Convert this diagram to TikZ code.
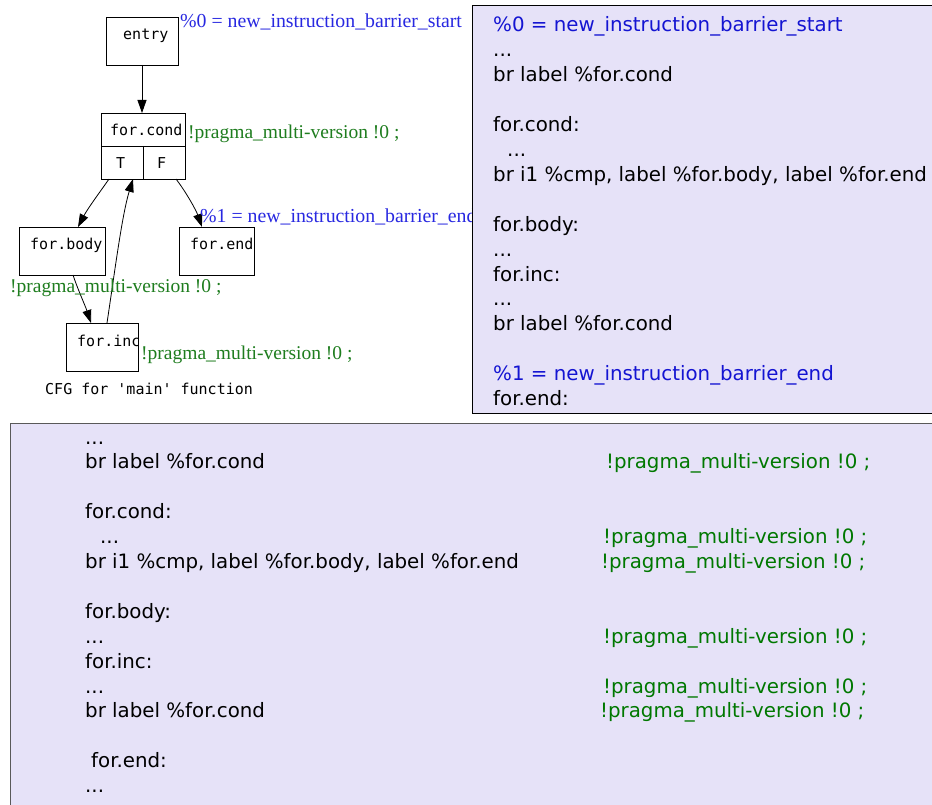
\documentclass[tikz,border=0pt]{standalone}
\usepackage{fontspec}
\usetikzlibrary{arrows.meta}
\newfontfamily\dvsans{DejaVu Sans}
\newfontfamily\dvmono{DejaVu Sans Mono}
\newfontfamily\libserif{Liberation Serif}
\definecolor{panelfill}{RGB}{230,226,248}
\definecolor{cfgblue}{RGB}{40,40,225}
\definecolor{cfggreen}{RGB}{30,125,30}
\definecolor{codeblue}{RGB}{20,20,210}
\definecolor{codegreen}{RGB}{0,120,0}
\begin{document}
\begin{tikzpicture}[x=1pt,y=-1pt,
  blk/.style={draw=black,line width=0.9pt,inner sep=0pt,outer sep=0pt},
  cfgtxt/.style={font=\dvmono\fontsize{15}{16}\selectfont,anchor=base west,inner sep=0pt},
  serlbl/.style={font=\libserif\fontsize{19.8}{21}\selectfont,anchor=base west,inner sep=0pt},
  code/.style={font=\dvsans\fontsize{19.8}{21}\selectfont,anchor=base west,inner sep=0pt},
  cfgedge/.style={draw=black,line width=0.8pt,-{Triangle[length=13pt,width=9pt]}},
  panel/.style={fill=panelfill,line width=1pt}]
\useasboundingbox (0,0) rectangle (932,805);
\clip (0,0) rectangle (932,805);
\fill[white] (0,0) rectangle (932,805);

% CFG boxes
\node[blk,minimum width=72pt,minimum height=48pt] (entry) at (142,41) {};
\node[blk,minimum width=84pt,minimum height=66pt] (cond) at (143,146) {};
\draw[line width=0.9pt] (cond.west |- 0,146) coordinate (cdl) -- (cond.east |- 0,146) coordinate (cdr);
\draw[line width=0.9pt] (143,146) coordinate (cdt) -- (cond.south) coordinate (cdb);
\node[blk,minimum width=86pt,minimum height=48pt] (body) at (62,251) {};
\node[blk,minimum width=75pt,minimum height=48pt] (fend) at (216.5,251) {};
\node[blk,minimum width=72pt,minimum height=48pt] (inc) at (102,347) {};

\node[cfgtxt] (entryt) at (123,40) {entry};
\node[cfgtxt] (condt) at (110,136) {for.cond};
\node[cfgtxt] (tt) at (116,169) {T};
\node[cfgtxt] (ft) at (157,169) {F};
\node[cfgtxt] (bodyt) at (30,250) {for.body};
\node[cfgtxt] (fendt) at (190,250) {for.end};
\begin{scope}
\clip (inc.north west) rectangle (inc.south east);
\node[cfgtxt] (inct) at (77,346) {for.inc};
\end{scope}
\node[cfgtxt] (title) at (45,394) {CFG for 'main' function};

% ports
\coordinate (entryout) at (142,65);
\coordinate (condin) at (142,113);
\coordinate (tport) at (109,179);
\coordinate (fport) at (176,179);
\coordinate (backin) at (133,179);
\coordinate (bodyin) at (78,227);
\coordinate (fendin) at (202,227);
\coordinate (bodyout) at (73,275);
\coordinate (incin) at (91,323);
\coordinate (incout) at (107,323);

\draw[cfgedge] (entryout) -- (condin);
\draw[cfgedge] (tport) .. controls (100,192) and (88,208) .. (bodyin);
\draw[cfgedge] (fport) .. controls (186,192) and (196,210) .. (fendin);
\draw[cfgedge] (bodyout) .. controls (78,290) and (85,305) .. (incin);
\draw[cfgedge] (incout) .. controls (115,270) and (122,215) .. (backin);

% CFG labels
\node[serlbl,text=cfgblue] (l0) at (180,28) {\%0 = new\_instruction\_barrier\_start};
\node[serlbl,text=cfggreen,font=\libserif\fontsize{19.5}{21}\selectfont] (lcond) at (188,139) {!pragma\_multi-version !0 ;};
\node[serlbl,text=cfgblue] (l1) at (200,223) {\%1 = new\_instruction\_barrier\_end};
\node[serlbl,text=cfggreen,font=\libserif\fontsize{19.5}{21}\selectfont] (lbody) at (10,292) {!pragma\_multi-version !0 ;};
\node[serlbl,text=cfggreen,font=\libserif\fontsize{19.5}{21}\selectfont] (linc) at (141,359) {!pragma\_multi-version !0 ;};

% top right panel
\draw[panel,draw=black] (472,6) rectangle (945,413);
\node[code,text=codeblue] (a0) at (493,32) {\%0 = new\_instruction\_barrier\_start};
\node[code] (a1) at (493,56.9) {...};
\node[code] (a2) at (493,81.8) {br label \%for.cond};
\node[code] (a4) at (493,131.6) {for.cond:};
\node[code] (a5) at (507,156.5) {...};
\node[code] (a6) at (493,181.4) {br i1 \%cmp, label \%for.body, label \%for.end};
\node[code] (a8) at (493,231.2) {for.body:};
\node[code] (a9) at (493,256.1) {...};
\node[code] (a10) at (493,281) {for.inc:};
\node[code] (a11) at (493,305.9) {...};
\node[code] (a12) at (493,330.8) {br label \%for.cond};
\node[code,text=codeblue] (a14) at (493,380.6) {\%1 = new\_instruction\_barrier\_end};
\node[code] (a15) at (493,405.5) {for.end:};

% bottom panel
\draw[panel,draw=black!65] (10,423) rectangle (945,815);
\node[code] (b0) at (85,444) {...};
\node[code] (b1) at (85,468.9) {br label \%for.cond};
\node[code] (b3) at (85,518.7) {for.cond:};
\node[code] (b4) at (100,543.6) {...};
\node[code] (b5) at (85,568.5) {br i1 \%cmp, label \%for.body, label \%for.end};
\node[code] (b7) at (85,618.3) {for.body:};
\node[code] (b8) at (85,643.2) {...};
\node[code] (b9) at (85,668.1) {for.inc:};
\node[code] (b10) at (85,693) {...};
\node[code] (b11) at (85,717.9) {br label \%for.cond};
\node[code] (b13) at (91,767.7) {for.end:};
\node[code] (b14) at (85,792.6) {...};

\node[code,text=codegreen] (g1) at (606,468.9) {!pragma\_multi-version !0 ;};
\node[code,text=codegreen] (g4) at (603,543.6) {!pragma\_multi-version !0 ;};
\node[code,text=codegreen] (g5) at (601,568.5) {!pragma\_multi-version !0 ;};
\node[code,text=codegreen] (g8) at (603,643.2) {!pragma\_multi-version !0 ;};
\node[code,text=codegreen] (g10) at (603,693) {!pragma\_multi-version !0 ;};
\node[code,text=codegreen] (g11) at (600,717.9) {!pragma\_multi-version !0 ;};
\end{tikzpicture}
\end{document}
